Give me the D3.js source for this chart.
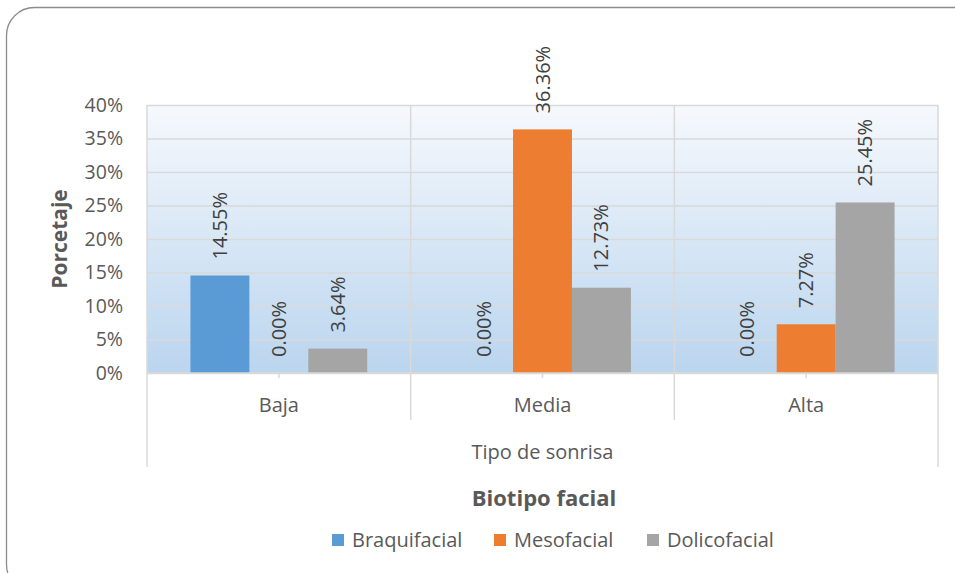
<!DOCTYPE html>
<html>
<head>
<meta charset="utf-8">
<script src="https://cdn.jsdelivr.net/npm/d3@7"></script>
<style>
  body { margin: 0; background: #fff; }
  svg text { font-family: "Open Sans", "Liberation Sans", sans-serif; }
</style>
</head>
<body>
<div id="chart"></div>
<script>
// data
var categories = ["Baja", "Media", "Alta"];
var seriesNames = ["Braquifacial", "Mesofacial", "Dolicofacial"];
var braquifacial = [14.55, 0.00, 0.00];
var mesofacial = [0.00, 36.36, 7.27];
var dolicofacial = [3.64, 12.73, 25.45];
var yTicks = [0, 5, 10, 15, 20, 25, 30, 35, 40];
var colors = ["#5b9bd5", "#ed7d31", "#a5a5a5"];

var allSeries = [braquifacial, mesofacial, dolicofacial];

var W = 955, H = 573;
var plot = {left: 147, right: 938, top: 105, bottom: 373};

var svg = d3.select("#chart").append("svg")
    .attr("width", W)
    .attr("height", H);

// outer rounded frame
svg.append("rect")
    .attr("x", 6.5).attr("y", 7.5)
    .attr("width", 980).attr("height", 585)
    .attr("rx", 28)
    .attr("fill", "#fff")
    .attr("stroke", "#8c8c8c")
    .attr("stroke-width", 1.3);

var defs = svg.append("defs");
var grad = defs.append("linearGradient").attr("id", "bg")
    .attr("x1", 0).attr("y1", 0).attr("x2", 0).attr("y2", 1);
grad.append("stop").attr("offset", "0%").attr("stop-color", "#f6f9fd");
grad.append("stop").attr("offset", "100%").attr("stop-color", "#bad5ee");

var x0 = d3.scaleBand().domain(categories).range([plot.left, plot.right]).paddingInner(0).paddingOuter(0);
var x1 = d3.scaleBand().domain(seriesNames).range([0, x0.bandwidth()]).paddingInner(0).paddingOuter(0.737);
var y = d3.scaleLinear().domain([0, 40]).range([plot.bottom, plot.top]);

svg.append("rect")
    .attr("x", plot.left).attr("y", plot.top)
    .attr("width", plot.right - plot.left).attr("height", plot.bottom - plot.top)
    .attr("fill", "url(#bg)");

// horizontal grid
var yAxis = d3.axisLeft(y).tickValues(yTicks).tickSize(-(plot.right - plot.left))
    .tickFormat(function(d){ return d + "%"; });
var gY = svg.append("g").attr("transform", "translate(" + plot.left + ",0)").call(yAxis);
gY.select(".domain").remove();
gY.selectAll("line").attr("stroke", "#d9d9d9").attr("stroke-width", 1.5);
gY.selectAll("text")
    .attr("x", -24)
    .attr("fill", "#595959")
    .style("font-size", "19.5px");

// vertical category separators (extend into the axis label area)
var bounds = [plot.left].concat(categories.map(function(c){ return x0(c) + x0.bandwidth(); }));
svg.selectAll(".sep").data(bounds).enter().append("line")
    .attr("class", "sep")
    .attr("x1", function(d){ return d; }).attr("x2", function(d){ return d; })
    .attr("y1", plot.top)
    .attr("y2", function(d, i){ return (i === 0 || i === bounds.length - 1) ? 467 : 420; })
    .attr("stroke", "#d9d9d9").attr("stroke-width", 1.5);

// short ticks at category centers
svg.selectAll(".ctick").data(categories).enter().append("line")
    .attr("x1", function(d){ return x0(d) + x0.bandwidth()/2; })
    .attr("x2", function(d){ return x0(d) + x0.bandwidth()/2; })
    .attr("y1", plot.bottom).attr("y2", plot.bottom + 5)
    .attr("stroke", "#d9d9d9").attr("stroke-width", 1.5);

// bars
var rows = [];
categories.forEach(function(c, ci){
  seriesNames.forEach(function(s, si){
    rows.push({cat: c, ser: s, si: si, v: allSeries[si][ci]});
  });
});

svg.selectAll(".bar").data(rows).enter().append("rect")
    .attr("x", function(d){ return x0(d.cat) + x1(d.ser); })
    .attr("y", function(d){ return y(d.v); })
    .attr("width", x1.bandwidth())
    .attr("height", function(d){ return y(0) - y(d.v); })
    .attr("fill", function(d){ return colors[d.si]; });

// x axis line
svg.append("line")
    .attr("x1", plot.left).attr("x2", plot.right)
    .attr("y1", plot.bottom).attr("y2", plot.bottom)
    .attr("stroke", "#d9d9d9").attr("stroke-width", 1.5);

// data labels rotated
svg.selectAll(".lbl").data(rows).enter().append("text")
    .attr("transform", function(d){
      var cx = x0(d.cat) + x1(d.ser) + x1.bandwidth()/2;
      return "translate(" + (cx + 7) + "," + (y(d.v) - 16) + ") rotate(-90)";
    })
    .attr("text-anchor", "start")
    .attr("fill", "#404040")
    .style("font-size", "20px")
    .text(function(d){ return d.v.toFixed(2) + "%"; });

// category labels
svg.selectAll(".cat").data(categories).enter().append("text")
    .attr("x", function(d){ return x0(d) + x0.bandwidth()/2; })
    .attr("y", 412)
    .attr("text-anchor", "middle")
    .attr("fill", "#595959")
    .style("font-size", "20px")
    .text(function(d){ return d; });

svg.append("text")
    .attr("x", (plot.left + plot.right)/2).attr("y", 459)
    .attr("text-anchor", "middle")
    .attr("fill", "#595959")
    .style("font-size", "20px")
    .text("Tipo de sonrisa");

// y title
svg.append("text")
    .attr("transform", "translate(67,239) rotate(-90)")
    .attr("text-anchor", "middle")
    .attr("fill", "#595959")
    .style("font-size", "21px")
    .style("font-weight", "bold")
    .text("Porcetaje");

// legend title
svg.append("text")
    .attr("x", 544).attr("y", 506)
    .attr("text-anchor", "middle")
    .attr("fill", "#595959")
    .style("font-size", "22px")
    .style("font-weight", "bold")
    .text("Biotipo facial");

// legend
var legX = [332, 494, 647];
var leg = svg.selectAll(".leg").data(seriesNames).enter().append("g")
    .attr("transform", function(d, i){ return "translate(" + legX[i] + ",534)"; });
leg.append("rect").attr("width", 12).attr("height", 12)
    .attr("fill", function(d, i){ return colors[i]; });
leg.append("text").attr("x", 20).attr("y", 12.5)
    .attr("fill", "#595959")
    .style("font-size", "20px")
    .text(function(d){ return d; });
</script>
</body>
</html>
